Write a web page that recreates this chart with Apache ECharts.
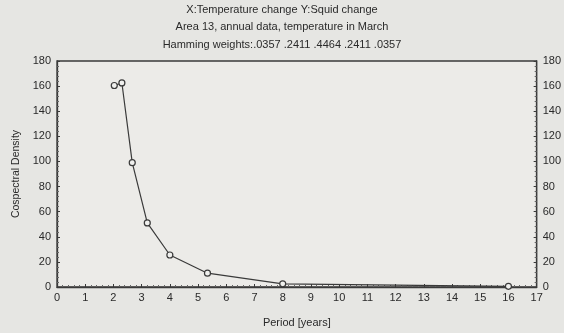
<!DOCTYPE html>
<html><head><meta charset="utf-8">
<script src="https://cdn.jsdelivr.net/npm/echarts@6/dist/echarts.min.js"></script>
<style>html,body{margin:0;padding:0;background:#e6e6e3;}#c{width:564px;height:333px;}</style>
</head><body><div id="c"></div>
<script>
const titleLines = ["X:Temperature change Y:Squid change", "Area 13, annual data, temperature in March", "Hamming weights:.0357 .2411 .4464 .2411 .0357"];
const periods = [2.03, 2.3, 2.667, 3.2, 4.0, 5.333, 8.0, 16.0];
const density = [160.5, 162.5, 99, 51, 25.5, 11, 2.5, 0.5];
const xTicks = [0,1,2,3,4,5,6,7,8,9,10,11,12,13,14,15,16,17];
const yTicks = [0,20,40,60,80,100,120,140,160,180];
const xLabel = "Period [years]";
const yLabel = "Cospectral Density";

const chart = echarts.init(document.getElementById('c'));
const axisCol = '#3a3a3a';
const txt = '#2a2a2a';
const font = 'Liberation Sans';
const yAxisBase = {
  type: 'value', min: yTicks[0], max: yTicks[yTicks.length-1], interval: 20,
  axisLine: {show: true, lineStyle: {color: axisCol, width: 1.3}},
  axisTick: {show: true, inside: true, length: 3, lineStyle: {color: axisCol}},
  minorTick: {show: true, splitNumber: 5, length: 2, lineStyle: {color: '#666'}},
  splitLine: {show: false},
  axisLabel: {color: txt, fontSize: 11, fontFamily: font, margin: 6}
};
chart.setOption({
  backgroundColor: '#e6e6e3',
  animation: false,
  title: [
    {text: titleLines.join('\n'), left: 'center', top: -4, textStyle: {fontSize: 11, fontWeight: 'normal', color: txt, fontFamily: font, lineHeight: 17.5}}
  ],
  grid: {left: 57, right: 24, top: 61, bottom: 43, show: true, backgroundColor: '#ecebe8', borderColor: axisCol, borderWidth: 1.3},
  xAxis: {
    type: 'value', min: 0, max: 17, interval: 1,
    name: xLabel, nameLocation: 'middle', nameGap: 30,
    nameTextStyle: {color: txt, fontSize: 11, fontFamily: font},
    axisLine: {show: true, lineStyle: {color: axisCol, width: 1.3}},
    axisTick: {show: true, inside: true, length: 3, lineStyle: {color: axisCol}},
    minorTick: {show: true, splitNumber: 5, length: 2, lineStyle: {color: '#666'}},
    splitLine: {show: false},
    axisLabel: {color: txt, fontSize: 11, fontFamily: font, margin: 5}
  },
  yAxis: [
    Object.assign({}, yAxisBase, {position: 'left', name: yLabel, nameLocation: 'middle', nameGap: 34, nameRotate: 90,
      nameTextStyle: {color: txt, fontSize: 10.5, fontFamily: font}}),
    Object.assign({}, yAxisBase, {position: 'right'})
  ],
  series: [{
    type: 'line', yAxisIndex: 0,
    data: periods.map((p,i)=>[p, density[i]]),
    symbol: 'circle', symbolSize: 6,
    lineStyle: {color: '#3a3a3a', width: 1.2},
    itemStyle: {color: '#f0f0ee', borderColor: '#3a3a3a', borderWidth: 1.2}
  }]
});
</script></body></html>
